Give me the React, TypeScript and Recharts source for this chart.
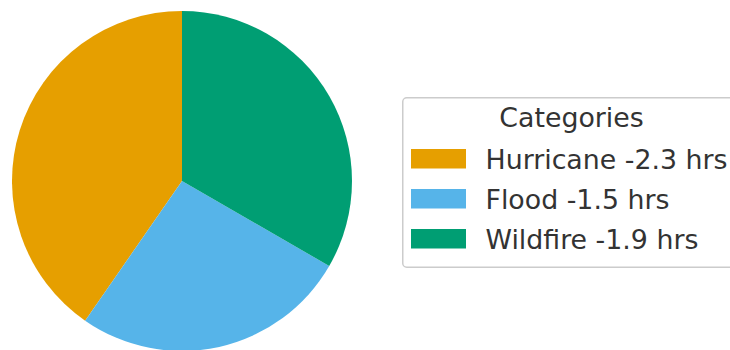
import React from "react";
import { PieChart, Pie, Cell, Legend } from "recharts";

const categories = ["Hurricane", "Flood", "Wildfire"];
const hours = [2.3, 1.5, 1.9];
const colors = ["#E69F00", "#56B4E9", "#009E73"];
const legendTitle = "Categories";

const data = categories.map((name, i) => ({ name, value: hours[i] }));

const FONT = "'DejaVu Sans', sans-serif";

const LegendBox = () => (
  <svg width={345} height={172} style={{ display: "block", overflow: "visible" }}>
    <rect x={0.75} y={0.75} width={342} height={169.5} rx={4} ry={4} fill="#ffffff" fillOpacity={0.8} stroke="#cccccc" strokeWidth={1.5} />
    <text x={169.5} y={30} textAnchor="middle" fontFamily={FONT} fontSize={26.8} fill="#333333">
      {legendTitle}
    </text>
    {categories.map((c, i) => (
      <g key={c}>
        <rect x={9} y={52 + i * 40} width={55} height={19.5} fill={colors[i]} />
        <text x={83.5} y={72 + i * 40} fontFamily={FONT} fontSize={26.8} fill="#333333">
          {`${c} -${hours[i]} hrs`}
        </text>
      </g>
    ))}
  </svg>
);

export default function App() {
  return (
    <div style={{ position: "absolute", left: 0, top: 0, width: 730, height: 350, background: "#ffffff" }}>
      <PieChart width={730} height={350} margin={{ top: 0, right: 0, bottom: 0, left: 0 }}>
        <Pie
          data={data}
          dataKey="value"
          nameKey="name"
          cx={182}
          cy={181}
          outerRadius={170}
          startAngle={90}
          endAngle={450}
          stroke="none"
          isAnimationActive={false}
        >
          {data.map((d, i) => (
            <Cell key={d.name} fill={colors[i]} />
          ))}
        </Pie>
        <Legend
          content={() => <LegendBox />}
          wrapperStyle={{ position: "absolute", left: 402, top: 97, width: 345, height: 172 }}
        />
      </PieChart>
    </div>
  );
}
